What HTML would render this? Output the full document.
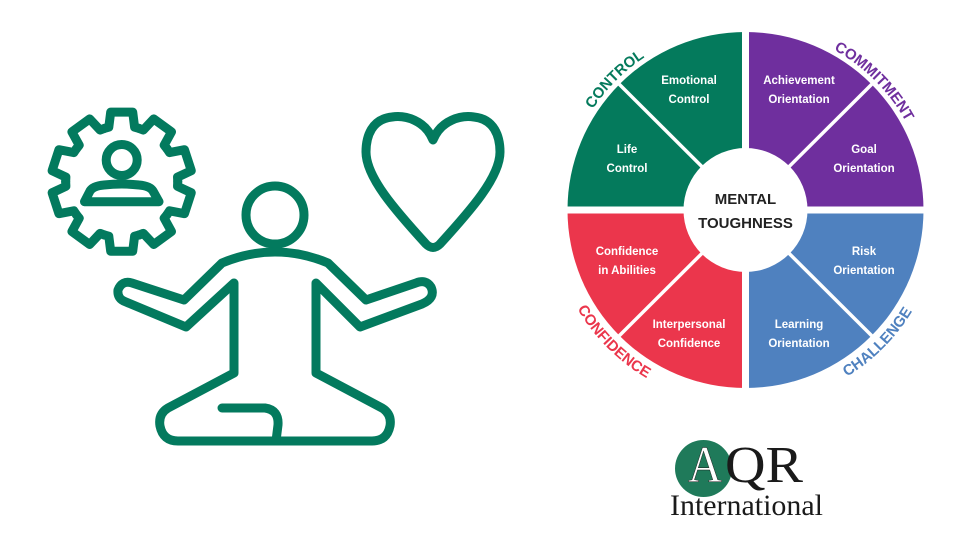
<!DOCTYPE html>
<html><head><meta charset="utf-8"><style>
html,body{margin:0;padding:0;background:#fff;width:980px;height:551px;overflow:hidden}
svg{display:block}
.t{font-family:"Liberation Sans",sans-serif;font-weight:bold;font-size:11.5px;fill:#fff;text-anchor:middle}
.c{font-family:"Liberation Sans",sans-serif;font-weight:bold;font-size:15px}
.m{font-family:"Liberation Sans",sans-serif;font-weight:bold;font-size:15px;fill:#222;text-anchor:middle}
</style></head><body>
<svg width="980" height="551" viewBox="0 0 980 551" xmlns="http://www.w3.org/2000/svg">
<defs>
  <path id="tooth" d="M-17.3,-53.3 L-12.9,-54.5 L-11,-69.6 L11,-69.6 L12.9,-54.5 L17.3,-53.3"/>
  <path id="p1" d="M563.2,194.1 A183,183 0 0 1 729.6,27.7"/>
  <path id="p2" d="M761.4,27.7 A183,183 0 0 1 927.8,194.1"/>
  <path id="p3" d="M551.2,226.9 A195,195 0 0 0 728.5,404.3"/>
  <path id="p4" d="M762.5,404.3 A195,195 0 0 0 939.8,226.9"/>
</defs>
<g fill="none" stroke="#037A5E" stroke-width="9" stroke-linejoin="round" stroke-linecap="round">
  <g transform="translate(121.7,181.7)">
    <use href="#tooth"/>
    <use href="#tooth" transform="rotate(36)"/>
    <use href="#tooth" transform="rotate(72)"/>
    <use href="#tooth" transform="rotate(108)"/>
    <use href="#tooth" transform="rotate(144)"/>
    <use href="#tooth" transform="rotate(180)"/>
    <use href="#tooth" transform="rotate(216)"/>
    <use href="#tooth" transform="rotate(252)"/>
    <use href="#tooth" transform="rotate(288)"/>
    <use href="#tooth" transform="rotate(324)"/>
  </g>
  <circle cx="121.7" cy="160" r="15.5"/>
  <path d="M84.5,201.7 L90,191 Q93,186 104,185 Q121.7,183 139,185 Q150,186 153,191 L159,201.7 Z"/>
  <circle cx="275" cy="215" r="29"/>
  <path d="M234,283 L234,373 L168,408 Q158,414 160,426 Q163,441 178,441 L372,441 Q387,441 390,426 Q392,414 382,408 L316,373 L316,283 L360,327 L422,304 Q436,298 431,287 Q426,279 416,283 L366,300 L328,263 Q302,252 275,252 Q248,252 222,263 L184,300 L132,283 Q122,280 118,290 Q117,299 126,302 L186,327 Z"/>
  <path d="M222,408 L265,408 Q279,410 278,425 L276,441"/>
  <path d="M433,140 C425,120 405,115 392,117 C372,119 366,136 366,152 C366,177 395,210 426,244 Q433,251 440,244 C471,210 500,177 500,152 C500,136 494,119 474,117 C461,115 441,120 433,140 Z"/>
</g>
<!-- wheel -->
<g>
  <path d="M745.5,210 L745.5,32 A178,178 0 0 0 567.5,210 Z" fill="#047A5C"/>
  <path d="M745.5,210 L923.5,210 A178,178 0 0 0 745.5,32 Z" fill="#6F2F9E"/>
  <path d="M745.5,210 L567.5,210 A178,178 0 0 0 745.5,388 Z" fill="#EB364C"/>
  <path d="M745.5,210 L745.5,388 A178,178 0 0 0 923.5,210 Z" fill="#4F81BF"/>
  <rect x="742" y="25" width="7" height="370" fill="#fff"/>
  <rect x="560" y="206.5" width="370" height="7" fill="#fff"/>
  <g stroke="#fff" stroke-width="3.5">
    <line x1="745.5" y1="210" x2="619" y2="84"/>
    <line x1="745.5" y1="210" x2="872" y2="84"/>
    <line x1="745.5" y1="210" x2="619" y2="336"/>
    <line x1="745.5" y1="210" x2="872" y2="336"/>
  </g>
  <circle cx="745.5" cy="210" r="62" fill="#fff"/>
</g>
<text class="t" x="689" y="84">Emotional</text><text class="t" x="689" y="103">Control</text>
<text class="t" x="799" y="84">Achievement</text><text class="t" x="799" y="103">Orientation</text>
<text class="t" x="627" y="153">Life</text><text class="t" x="627" y="172">Control</text>
<text class="t" x="864" y="153">Goal</text><text class="t" x="864" y="172">Orientation</text>
<text class="t" x="627" y="255">Confidence</text><text class="t" x="627" y="274">in Abilities</text>
<text class="t" x="864" y="255">Risk</text><text class="t" x="864" y="274">Orientation</text>
<text class="t" x="689" y="328">Interpersonal</text><text class="t" x="689" y="347">Confidence</text>
<text class="t" x="799" y="328">Learning</text><text class="t" x="799" y="347">Orientation</text>
<text class="m" x="745.5" y="204">MENTAL</text>
<text class="m" x="745.5" y="228">TOUGHNESS</text>
<text class="c" fill="#047A5C" text-anchor="middle"><textPath href="#p1" startOffset="50%">CONTROL</textPath></text>
<text class="c" fill="#6F2F9E" text-anchor="middle"><textPath href="#p2" startOffset="50%">COMMITMENT</textPath></text>
<text class="c" fill="#EB364C" text-anchor="middle"><textPath href="#p3" startOffset="50%">CONFIDENCE</textPath></text>
<text class="c" fill="#4F81BF" text-anchor="middle"><textPath href="#p4" startOffset="50%">CHALLENGE</textPath></text>
<!-- logo -->
<circle cx="703.5" cy="468.5" r="28.5" fill="#1F7A5A"/>
<text x="688" y="482" font-family="Liberation Serif,serif" font-size="52" fill="#fff" stroke="#1a1a1a" stroke-width="0.5" textLength="34" lengthAdjust="spacingAndGlyphs">A</text>
<text x="725" y="482" font-family="Liberation Serif,serif" font-size="52" fill="#1a1a1a" textLength="78" lengthAdjust="spacingAndGlyphs">QR</text>
<text x="670" y="515" font-family="Liberation Serif,serif" font-size="30" fill="#1a1a1a" textLength="153" lengthAdjust="spacingAndGlyphs">International</text>
</svg>
</body></html>
